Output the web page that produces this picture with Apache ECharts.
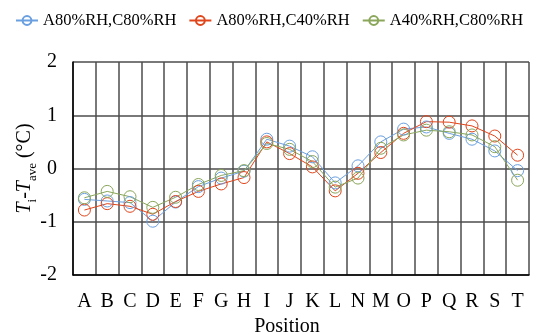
<!DOCTYPE html>
<html>
<head>
<meta charset="utf-8">
<script src="https://cdn.jsdelivr.net/npm/echarts@6/dist/echarts.min.js"></script>
<style>html,body{margin:0;padding:0;background:#fff;}#c{width:548px;height:335px;}</style>
</head>
<body>
<div id="c"></div>
<script>
var categories = ['A','B','C','D','E','F','G','H','I','J','K','L','N','M','O','P','Q','R','S','T'];
var seriesNames = ['A80%RH,C80%RH','A80%RH,C40%RH','A40%RH,C80%RH'];
var blueValues  = [-0.58,-0.61,-0.64,-0.99,-0.63,-0.34,-0.18,-0.05,0.55,0.42,0.22,-0.27,0.05,0.50,0.74,0.78,0.66,0.55,0.33,-0.04];
var redValues   = [-0.78,-0.66,-0.71,-0.86,-0.62,-0.43,-0.29,-0.17,0.50,0.28,0.03,-0.42,-0.09,0.30,0.66,0.88,0.87,0.80,0.61,0.25];
var greenValues = [-0.55,-0.43,-0.53,-0.73,-0.54,-0.30,-0.13,-0.04,0.47,0.36,0.13,-0.35,-0.18,0.38,0.63,0.72,0.69,0.63,0.41,-0.22];
var yTicks = [-2,-1,0,1,2];
var colors = ['#6a9fe0','#e0461c','#8aa65a'];

var font = "'Liberation Serif','Times New Roman',serif";
var chart = echarts.init(document.getElementById('c'), null, {renderer:'canvas'});
function mk(name, data, color){
  return {
    name: name, type: 'line', data: data,
    symbol: 'circle', symbolSize: 12,
    lineStyle: {color: color, width: 1},
    itemStyle: {color: 'rgba(255,255,255,0)', borderColor: color, borderWidth: 1},
    emphasis: {disabled: true}
  };
}
chart.setOption({
  animation: false,
  backgroundColor: '#fff',
  color: colors,
  legend: {
    left: 10, top: 7,
    itemWidth: 22, itemHeight: 11, itemGap: 12,
    textStyle: {fontFamily: font, fontSize: 16.5, color: '#000'},
    data: seriesNames
  },
  grid: {left: 73, right: 19, top: 62, bottom: 60, containLabel: false, outerBoundsMode: 'none'},
  xAxis: {
    type: 'category', data: categories, boundaryGap: true,
    axisLine: {onZero: false, lineStyle: {color: '#000', width: 1.5}},
    axisTick: {show: false},
    axisLabel: {interval: 0, margin: 17, fontFamily: font, fontSize: 20, color: '#000'},
    splitLine: {show: true, interval: 0, lineStyle: {color: '#4d4d4d', width: 1.5}},
    name: 'Position', nameLocation: 'middle', nameGap: 41,
    nameTextStyle: {fontFamily: font, fontSize: 20, color: '#000', padding: [0, 28, 0, 0]}
  },
  yAxis: {
    type: 'value', min: yTicks[0], max: yTicks[yTicks.length-1], interval: 1,
    axisLine: {show: true, lineStyle: {color: '#000', width: 1.5}},
    axisTick: {show: false},
    axisLabel: {margin: 16, fontFamily: font, fontSize: 20, color: '#000'},
    splitLine: {show: true, lineStyle: {color: '#4d4d4d', width: 1.5}},
    name: '{it|T}{sub|i}{n|-}{it|T}{sub|ave}{n| (°C)}',
    nameLocation: 'middle', nameGap: 38, nameRotate: 90, nameMoveOverlap: false,
    nameTextStyle: {
      fontFamily: font, fontSize: 20, color: '#000',
      rich: {
        it: {fontFamily: font, fontSize: 20, fontStyle: 'italic', color: '#000', verticalAlign: 'bottom', lineHeight: 23},
        n: {fontFamily: font, fontSize: 20, color: '#000', verticalAlign: 'bottom', lineHeight: 23},
        sub: {fontFamily: font, fontSize: 13, color: '#000', verticalAlign: 'bottom', lineHeight: 23, padding: [0,0,-4,0]}
      }
    }
  },
  series: [mk(seriesNames[0], blueValues, colors[0]), mk(seriesNames[1], redValues, colors[1]), mk(seriesNames[2], greenValues, colors[2])]
});
</script>
</body>
</html>
